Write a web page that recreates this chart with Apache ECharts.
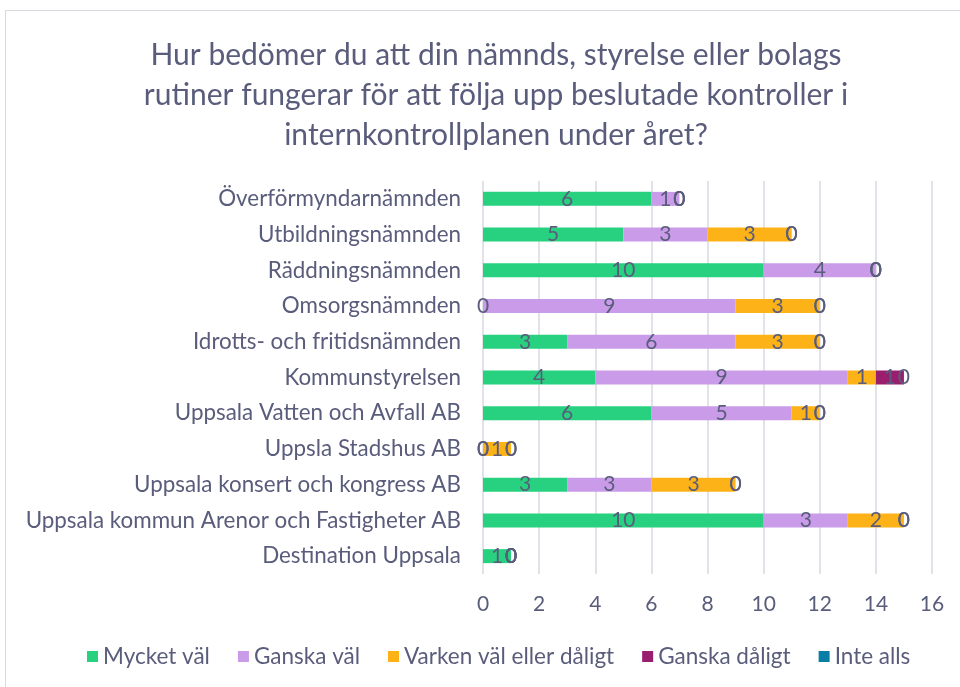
<!DOCTYPE html>
<html>
<head>
<meta charset="utf-8">
<script src="https://cdn.jsdelivr.net/npm/echarts@6/dist/echarts.min.js"></script>
<style>
  html, body { margin: 0; padding: 0; background: #fff; }
  #frame {
    position: absolute; left: 5px; top: 10px; width: 970px; height: 700px;
    border: 1px solid #d9d9e0; box-sizing: border-box;
  }
  #chart { position: absolute; left: 0; top: 0; width: 960px; height: 687px; }
</style>
</head>
<body>
<div id="frame"></div>
<div id="chart"></div>
<script>
// kategorier, uppifrån och ned
const categories = [
  'Överförmyndarnämnden',
  'Utbildningsnämnden',
  'Räddningsnämnden',
  'Omsorgsnämnden',
  'Idrotts- och fritidsnämnden',
  'Kommunstyrelsen',
  'Uppsala Vatten och Avfall AB',
  'Uppsla Stadshus AB',
  'Uppsala konsert och kongress AB',
  'Uppsala kommun Arenor och Fastigheter AB',
  'Destination Uppsala'
]
const mycketVal = [6, 5, 10, 0, 3, 4, 6, 0, 3, 10, 1]
const ganskaVal = [1, 3, 4, 9, 6, 9, 5, 0, 3, 3, 0]
const varken = [0, 3, 0, 3, 3, 1, 1, 1, 3, 2, 0]
const ganskaDaligt = [0, 0, 0, 0, 0, 1, 0, 0, 0, 0, 0]
const inteAlls = [0, 0, 0, 0, 0, 0, 0, 0, 0, 0, 0]
const xTicks = [0, 2, 4, 6, 8, 10, 12, 14, 16]

const textColor = '#595d7b'
const font = 'Lato'

function makeSeries (name, data, color) {
  return {
    name: name,
    type: 'bar',
    stack: 'total',
    data: data,
    barWidth: 14,
    itemStyle: { color: color },
    label: {
      show: true,
      position: 'inside',
      color: textColor,
      fontSize: 21,
      fontFamily: font
    }
  }
}

const chart = echarts.init(document.getElementById('chart'))
chart.setOption({
  animation: false,
  title: {
    text: 'Hur bedömer du att din nämnds, styrelse eller bolags\nrutiner fungerar för att följa upp beslutade kontroller i\ninternkontrollplanen under året?',
    left: 491,
    top: 30,
    textAlign: 'center',
    textStyle: {
      color: textColor,
      fontSize: 30,
      fontWeight: 'normal',
      fontFamily: font,
      lineHeight: 40
    }
  },
  legend: {
    bottom: 14,
    left: 82,
    itemWidth: 11,
    itemHeight: 11,
    itemGap: 28,
    icon: 'rect',
    textStyle: { color: textColor, fontSize: 22.5, fontFamily: font }
  },
  grid: {
    left: 483,
    right: 28,
    top: 181,
    height: 393
  },
  xAxis: {
    type: 'value',
    min: 0,
    max: 16,
    interval: 2,
    axisLine: { show: false },
    axisTick: { show: false },
    splitLine: { lineStyle: { color: '#d9d9e0', width: 1.5 } },
    axisLabel: {
      color: textColor,
      fontSize: 21,
      fontFamily: font,
      margin: 20,
      formatter: v => xTicks.includes(v) ? String(v) : ''
    }
  },
  yAxis: {
    type: 'category',
    data: categories,
    inverse: true,
    axisLine: { show: false },
    axisTick: { show: false },
    axisLabel: {
      color: textColor,
      fontSize: 22.4,
      fontFamily: font,
      margin: 22
    }
  },
  series: [
    makeSeries('Mycket väl', mycketVal, '#27d17f'),
    makeSeries('Ganska väl', ganskaVal, '#c99be8'),
    makeSeries('Varken väl eller dåligt', varken, '#fdb218'),
    makeSeries('Ganska dåligt', ganskaDaligt, '#991e6e'),
    makeSeries('Inte alls', inteAlls, '#0a7ea4')
  ]
})
</script>
</body>
</html>
